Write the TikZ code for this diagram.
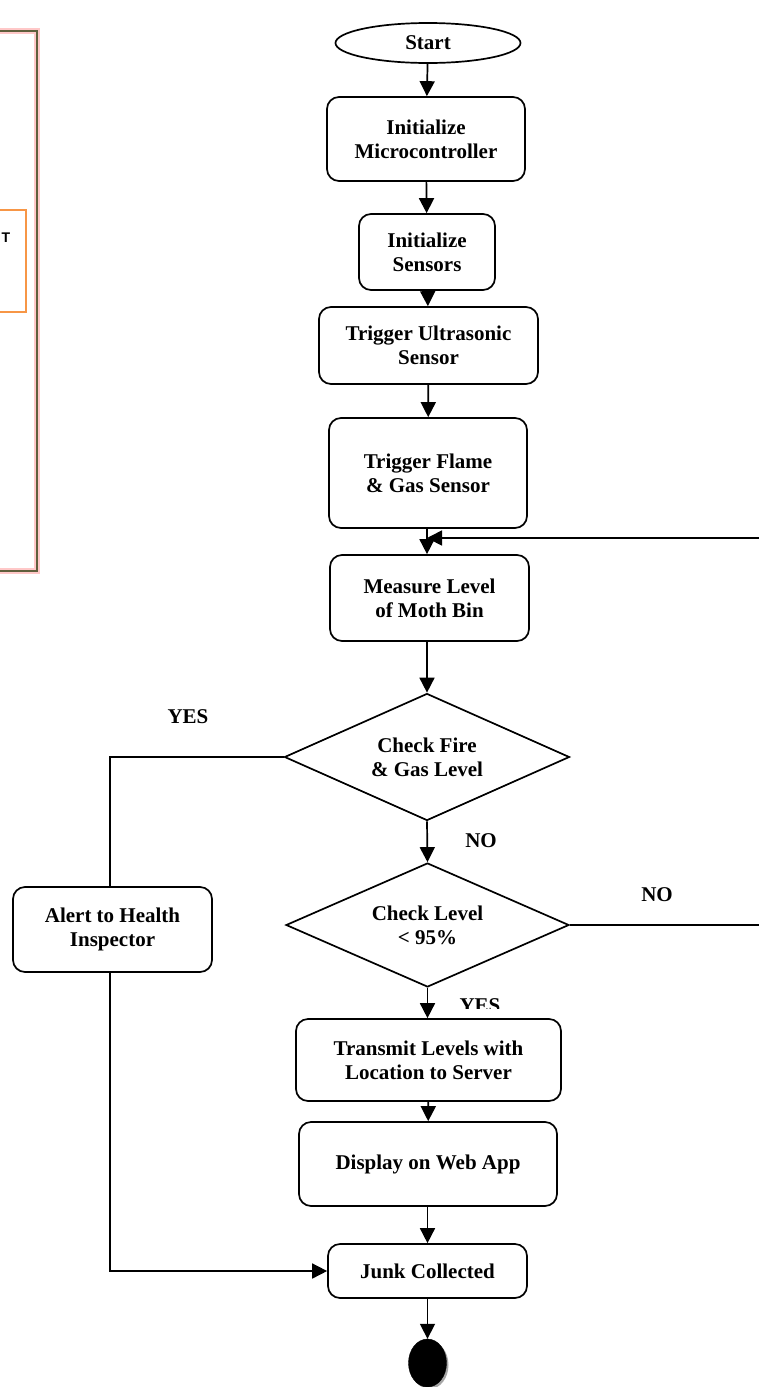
\documentclass[tikz,border=0pt]{standalone}
\usepackage{fontspec}
\setmainfont{Liberation Serif}
\setsansfont{Liberation Sans}
\usetikzlibrary{arrows.meta,shapes.geometric}
\definecolor{olive}{RGB}{95,95,60}
\definecolor{glow}{RGB}{255,200,200}
\definecolor{orng}{RGB}{247,150,70}
\begin{document}
\begin{tikzpicture}[x=1pt,y=-1pt,
  every node/.style={font=\fontsize{21}{24}\selectfont\bfseries, align=center, inner sep=0pt},
  box/.style={draw, rectangle, rounded corners=12pt, line width=1.7pt},
  dia/.style={draw, diamond, aspect=2.25, line width=1.7pt},
  conn/.style={line width=1.7pt},
  arr/.style={conn, -{Triangle[width=15pt,length=15pt]}}]
\path[clip] (0,0) rectangle (759,1387);
\fill[white] (0,0) rectangle (759,1387);
% left panel
\draw[glow, line width=6pt] (-10,31) rectangle (37,571);
\draw[olive, line width=1.3pt] (-10,31) rectangle (37,571);
\draw[orng, line width=2.2pt] (-10,210) rectangle (26,312);
\node[font=\sffamily\bfseries\fontsize{14}{16}\selectfont] (tt) at (6,238) {T};
% nodes
\node[draw, ellipse, line width=1.7pt, minimum width=185pt, minimum height=40pt] (start) at (428,43) {Start};
\node[box, minimum width=198pt, minimum height=84pt] (n1) at (426,139) {Initialize\\Microcontroller};
\node[box, minimum width=136pt, minimum height=76pt] (n2) at (427,252) {Initialize\\Sensors};
\node[box, minimum width=219pt, minimum height=77pt] (n3) at (428.5,345.5) {Trigger Ultrasonic\\Sensor};
\node[box, minimum width=198pt, minimum height=110pt] (n4) at (428,473) {Trigger Flame\\\& Gas Sensor};
\node[box, minimum width=199pt, minimum height=86pt] (n5) at (429.5,598) {Measure Level\\of Moth Bin};
\node[dia, minimum width=285pt, minimum height=127pt] (d1) at (427,757) {Check Fire\\\& Gas Level};
\node[dia, minimum width=283pt, minimum height=124pt] (d2) at (427.5,925) {Check Level\\< 95\%};
\node[box, minimum width=199pt, minimum height=85pt] (alert) at (112.5,929.5) {Alert to Health\\Inspector};
\node[box, minimum width=265pt, minimum height=82pt] (n6) at (428.5,1060) {Transmit Levels with\\Location to Server};
\node[box, minimum width=258pt, minimum height=84pt] (n7) at (428,1164) {Display on Web App};
\node[box, minimum width=199pt, minimum height=54pt] (n8) at (427.5,1271) {Junk Collected};
\fill[gray!70] (429.5,1365) ellipse (19pt and 24pt);
\node[draw, fill=black, ellipse, minimum width=38pt, minimum height=48pt] (endc) at (427.5,1363) {};
% labels
\node (yes1) at (188,717) {YES};
\node (no1) at (481,841) {NO};
\node (no2) at (657,895) {NO};
\begin{scope}
\clip (440,985) rectangle (520,1008);
\node (yes2) at (480,1006) {YES};
\end{scope}
% connectors
\draw[arr] (start) -- (n1);
\draw[arr] (n1) -- (n2);
\draw[arr] (n2) -- (n3);
\draw[arr] (n3) -- (n4);
\draw[arr] (n4.south -| 427,0) -- (n5.north -| 427,0);
\coordinate (fb) at (427,538);
\coordinate (rb) at (775,925);
\coordinate (rt) at (775,538);
\draw[arr] (d2.east) -- (rb) -- (rt) -- (fb);
\draw[arr] (n5.south -| 427,0) -- (d1.north);
\draw[arr] (d1.south) -- (d2.north);
\coordinate (yl) at (110,757);
\draw[conn] (d1.west) -- (yl) -- (yl |- alert.north);
\draw[arr] (alert.south -| yl) |- (n8.west);
\draw[arr] (d2.south) -- (n6.north -| d2.south);
\draw[arr] (n6) -- (n7);
\draw[arr] (n7.south -| n8.north) -- (n8.north);
\draw[arr] (n8) -- (endc);
\end{tikzpicture}
\end{document}
